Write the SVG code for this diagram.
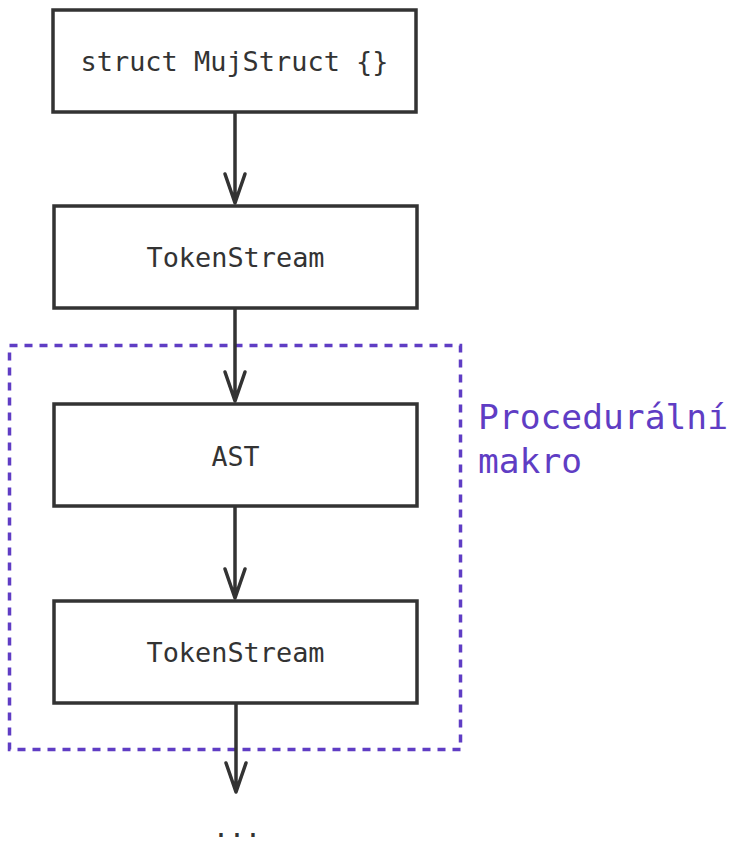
<svg xmlns="http://www.w3.org/2000/svg" width="740" height="856" viewBox="0 0 740 856">
<style>
.box{fill:#fff;stroke:#333;stroke-width:3.5}
.t{font-family:"DejaVu Sans Mono","Liberation Mono",monospace;font-size:26.5px;fill:#333;text-anchor:middle}
.edge{stroke:#333;stroke-width:3.5;fill:none;stroke-linecap:round;stroke-linejoin:round}
.grp{fill:none;stroke:#5f3dc4;stroke-width:3.5;stroke-dasharray:8 7}
.lbl{font-family:"DejaVu Sans Mono","Liberation Mono",monospace;font-size:34px;fill:#5f3dc4}
</style>
<rect width="740" height="856" fill="#fff"/>
<g id="group-macro">
<rect class="grp" x="9.5" y="345.5" width="451" height="404"/>
<text class="lbl" x="478" y="429" textLength="250" lengthAdjust="spacingAndGlyphs">Procedurální</text>
<text class="lbl" x="478" y="473" textLength="104" lengthAdjust="spacingAndGlyphs">makro</text>
</g>
<g id="connectors">
<path class="edge" d="M235 112 V203 M225 174 L235 203 L245 174"/>
<path class="edge" d="M235 308 V401 M225 372 L235 401 L245 372"/>
<path class="edge" d="M235 506 V598 M225 569 L235 598 L245 569"/>
<path class="edge" d="M236 703 V792 M226 763 L236 792 L246 763"/>
</g>
<g id="n1">
<rect class="box" x="53" y="10" width="363" height="102"/>
<text class="t" x="234.5" y="71" textLength="308" lengthAdjust="spacingAndGlyphs">struct MujStruct {}</text>
</g>
<g id="n2">
<rect class="box" x="54" y="206" width="363" height="102"/>
<text class="t" x="235.5" y="267" textLength="178" lengthAdjust="spacingAndGlyphs">TokenStream</text>
</g>
<g id="n3">
<rect class="box" x="54" y="404" width="363" height="102"/>
<text class="t" x="235.5" y="466" textLength="48" lengthAdjust="spacingAndGlyphs">AST</text>
</g>
<g id="n4">
<rect class="box" x="54" y="601" width="363" height="102"/>
<text class="t" x="235.5" y="662" textLength="178" lengthAdjust="spacingAndGlyphs">TokenStream</text>
</g>
<g id="n5">
<text class="t" x="237" y="837">...</text>
</g>
</svg>
